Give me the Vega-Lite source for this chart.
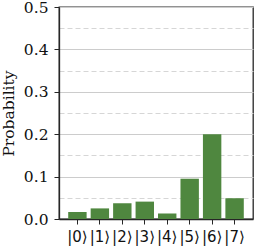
{
  "$schema": "https://vega.github.io/schema/vega-lite/v6.json",
  "width": 194,
  "height": 212,
  "autosize": "none",
  "padding": {"left": 59, "top": 7, "right": 5, "bottom": 30},
  "background": "white",
  "config": {
    "view": {"stroke": "#262626", "strokeWidth": 1.3},
    "axis": {"domainColor": "#262626", "tickColor": "#262626", "labelColor": "#111", "titleColor": "#111"}
  },
  "data": {
    "values": [
      {"state": "|0⟩", "p": 0.0165},
      {"state": "|1⟩", "p": 0.025},
      {"state": "|2⟩", "p": 0.037},
      {"state": "|3⟩", "p": 0.041},
      {"state": "|4⟩", "p": 0.013},
      {"state": "|5⟩", "p": 0.095},
      {"state": "|6⟩", "p": 0.2},
      {"state": "|7⟩", "p": 0.049}
    ]
  },
  "mark": {"type": "bar", "color": "#4f873f"},
  "encoding": {
    "x": {
      "field": "state",
      "type": "nominal",
      "sort": null,
      "scale": {"paddingInner": 0.18, "paddingOuter": 0.41},
      "axis": {
        "title": null,
        "labelAngle": 0,
        "labelFont": "DejaVu Sans",
        "labelFontSize": 15,
        "labelPadding": 5,
        "tickSize": 5,
        "domainWidth": 1.3
      }
    },
    "y": {
      "field": "p",
      "type": "quantitative",
      "scale": {"domain": [0, 0.5], "nice": false},
      "axis": {
        "title": "Probability",
        "titleFont": "DejaVu Serif",
        "titleFontSize": 15.5,
        "titleFontWeight": "normal",
        "titlePadding": 7,
        "labelFont": "DejaVu Serif",
        "labelFontSize": 15.5,
        "labelPadding": 6,
        "values": [0, 0.05, 0.1, 0.15, 0.2, 0.25, 0.3, 0.35, 0.4, 0.45, 0.5],
        "labelExpr": "round(datum.value*20)%2==0 ? format(datum.value, '.1f') : ''",
        "tickSize": {"condition": {"test": "round(datum.value*20)%2==1", "value": 0}, "value": 5},
        "grid": true,
        "gridColor": {"condition": {"test": "round(datum.value*20)%2==1", "value": "#d6d6d6"}, "value": "#cccccc"},
        "gridDash": {"condition": {"test": "round(datum.value*20)%2==1", "value": [5, 3]}, "value": []},
        "gridWidth": 1,
        "domainWidth": 1.3
      }
    }
  }
}
